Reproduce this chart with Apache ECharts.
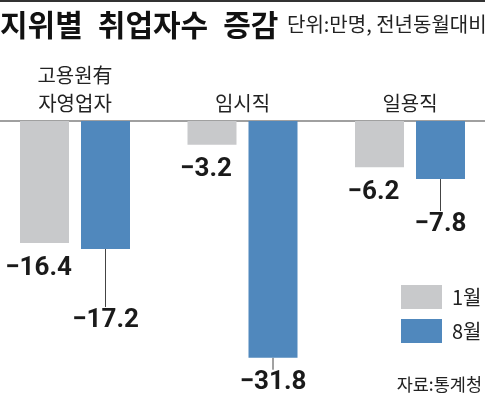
<!DOCTYPE html>
<html><head><meta charset="utf-8">
<script src="https://cdn.jsdelivr.net/npm/echarts@6/dist/echarts.min.js"></script>
<style>html,body{margin:0;padding:0;background:#fff}#c{width:485px;height:397px}</style>
</head><body><div id="c"></div>
<script>
var categories = ['고용원有\n자영업자', '임시직', '일용직'];
var seriesNames = ['1월', '8월'];
var jan = [-16.4, -3.2, -6.2];
var aug = [-17.2, -31.8, -7.8];
var augLabelDrop = [46, 0, 20];

var numFont = 'Roboto, "Liberation Sans", Arial, sans-serif';
var krFont = '"Noto Sans CJK KR", sans-serif';
function fmt(p){ return '\u2212' + Math.abs(p.value).toFixed(1); }

var chart = echarts.init(document.getElementById('c'));
chart.setOption({
  animation: false,
  backgroundColor: '#fff',
  grid: { left: -8.75, width: 502.5, top: 121, height: 268, outerBoundsMode: 'none', containLabel: false },
  xAxis: {
    type: 'category', position: 'top', data: categories,
    axisLine: { show: true, lineStyle: { color: '#808080', width: 1.5 } },
    axisTick: { show: false },
    axisLabel: { margin: 4, fontFamily: krFont, fontSize: 20, lineHeight: 28, color: '#222' }
  },
  yAxis: { type: 'value', min: -36, max: 0, show: false },
  legend: {
    orient: 'vertical', left: 396, top: 280, itemWidth: 41, itemHeight: 24, itemGap: 10,
    icon: 'rect', data: seriesNames,
    textStyle: { fontFamily: krFont, fontSize: 20, color: '#222', padding: [0, 0, 0, 5] }
  },
  graphic: [
    { type: 'rect', left: 0, top: 0, shape: { width: 485, height: 2 }, style: { fill: '#333' } },
    { type: 'text', left: 0, top: 10, style: { text: '지위별\u2002취업자수\u2002증감', fontFamily: krFont, fontWeight: 'bold', fontSize: 30, fill: '#111' } },
    { type: 'text', left: 287, top: 14, style: { text: '단위:만명, 전년동월대비', fontFamily: krFont, fontSize: 20, fill: '#222' } },
    { type: 'text', right: 3, top: 376, style: { text: '자료:통계청', fontFamily: krFont, fontSize: 17.5, fill: '#222' } }
  ],
  series: [
    {
      name: seriesNames[0], type: 'bar', data: jan, barWidth: 49, barGap: '24.5%',
      itemStyle: { color: '#c8c9cb' },
      label: { show: true, position: 'bottom', distance: 12, offset: [-6, 0], formatter: fmt,
        fontFamily: numFont, fontSize: 26, fontWeight: 'bold', color: '#1a1a1a' }
    },
    {
      name: seriesNames[1], type: 'bar', data: aug, barWidth: 49,
      itemStyle: { color: '#5088bd' },
      label: { show: true, position: 'bottom', distance: 12, offset: [-6, 0], formatter: fmt,
        fontFamily: numFont, fontSize: 26, fontWeight: 'bold', color: '#1a1a1a' },
      labelLayout: function (p) { return { dy: augLabelDrop[p.dataIndex] }; },
      labelLine: { show: true, lineStyle: { color: '#444', width: 1 } }
    }
  ]
});
</script></body></html>
